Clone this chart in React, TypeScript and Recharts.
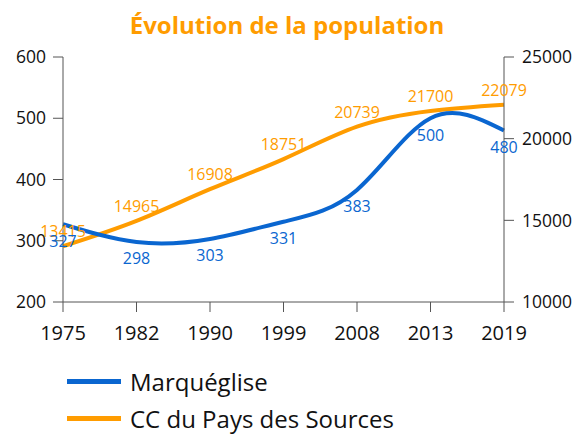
import React from 'react';
import { LineChart, Line, XAxis, YAxis, LabelList } from 'recharts';

const years = ['1975', '1982', '1990', '1999', '2008', '2013', '2019'];
const marqueglise = [327, 298, 303, 331, 383, 500, 480];
const ccPays = [13415, 14965, 16908, 18751, 20739, 21700, 22079];
const leftTicks = [200, 300, 400, 500, 600];
const rightTicks = [10000, 15000, 20000, 25000];

const BLUE = '#0a66d0';
const ORANGE = '#ff9c00';
const FONT = '"Open Sans", sans-serif';

const data = years.map((y, i) => ({ year: y, commune: marqueglise[i], cc: ccPays[i] }));

export default function App() {
  const axisTick = { fontSize: 17.5, fill: '#111', fontFamily: FONT };
  return (
    <div style={{ position: 'absolute', left: 0, top: 0, width: 574, height: 434, background: '#fff', fontFamily: FONT }}>
      <div
        style={{
          position: 'absolute',
          top: 8,
          left: 0,
          width: 574,
          textAlign: 'center',
          color: ORANGE,
          fontWeight: 700,
          fontSize: 24,
        }}
      >
        Évolution de la population
      </div>
      <LineChart width={574} height={434} data={data} margin={{ top: 57, right: 10, left: 8, bottom: 92 }}>
        <XAxis
          dataKey="year"
          tick={{ ...axisTick, fontSize: 20 }}
          tickSize={10}
          tickMargin={14}
          height={40}
          stroke="#555"
          interval={0}
        />
        <YAxis
          yAxisId="left"
          domain={[200, 600]}
          ticks={leftTicks}
          tick={axisTick}
          tickSize={10}
          tickMargin={7}
          width={55}
          stroke="#555"
        />
        <YAxis
          yAxisId="right"
          orientation="right"
          domain={[10000, 25000]}
          ticks={rightTicks}
          tick={axisTick}
          tickSize={10}
          tickMargin={8}
          width={60}
          stroke="#555"
        />
        <Line
          yAxisId="right"
          type="natural"
          dataKey="cc"
          stroke={ORANGE}
          strokeWidth={4}
          dot={false}
          isAnimationActive={false}
        >
          <LabelList dataKey="cc" position="top" offset={9} fill={ORANGE} fontSize={16} fontFamily={FONT} />
        </Line>
        <Line
          yAxisId="left"
          type="natural"
          dataKey="commune"
          stroke={BLUE}
          strokeWidth={4}
          dot={false}
          isAnimationActive={false}
        >
          <LabelList dataKey="commune" position="bottom" offset={11} fill={BLUE} fontSize={16} fontFamily={FONT} />
        </Line>
      </LineChart>
      <div style={{ position: 'absolute', left: 67, top: 363, fontSize: 24, color: '#111' }}>
        <div style={{ display: 'flex', alignItems: 'center', height: 37 }}>
          <span style={{ display: 'inline-block', width: 54, height: 5, background: BLUE, marginRight: 9 }} />
          Marquéglise
        </div>
        <div style={{ display: 'flex', alignItems: 'center', height: 37 }}>
          <span style={{ display: 'inline-block', width: 54, height: 5, background: ORANGE, marginRight: 9 }} />
          CC du Pays des Sources
        </div>
      </div>
    </div>
  );
}
